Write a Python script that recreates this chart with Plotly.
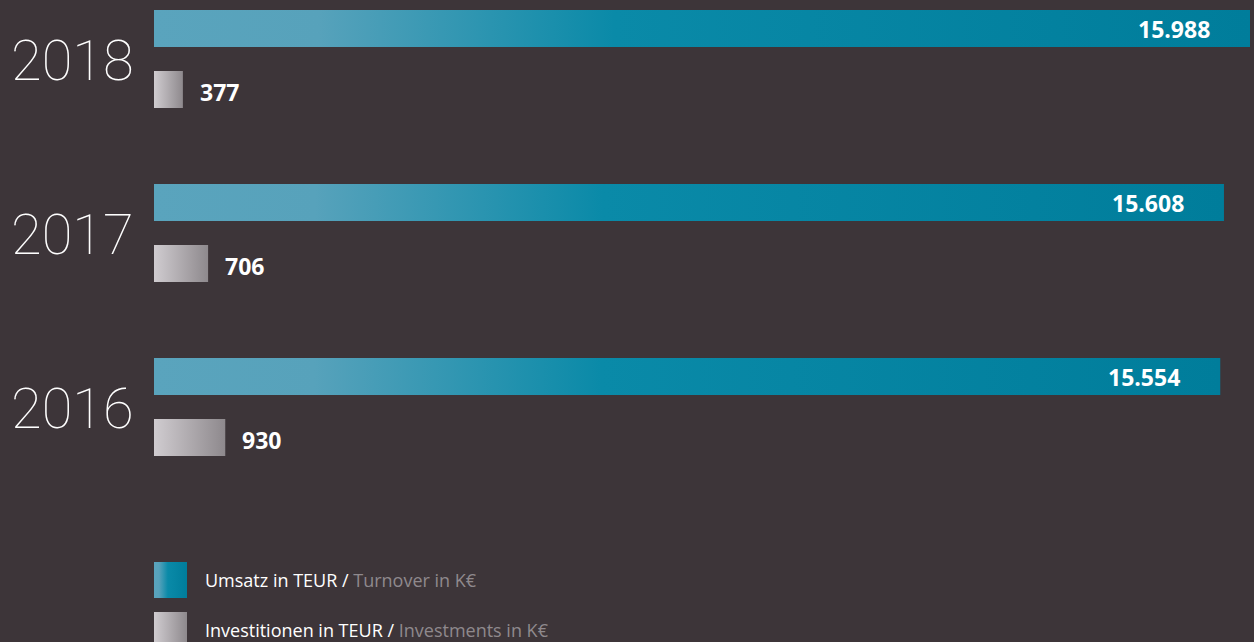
import plotly.graph_objects as go

years = ["2018", "2017", "2016"]
turnover = [15988, 15608, 15554]
investments = [377, 706, 930]
turnover_labels = ["15.988", "15.608", "15.554"]
investment_labels = ["377", "706", "930"]
legend_de = ["Umsatz in TEUR", "Investitionen in TEUR"]
legend_en = ["Turnover in K€", "Investments in K€"]

BG = "#3d3539"
TEAL_SCALE = [[0, "#5aa4bd"], [0.15, "#57a2bb"], [0.42, "#0a8aa8"], [1, "#007d9b"]]
GREY_SCALE = [[0, "#d0ccd0"], [1, "#8e898d"]]

W, H = 1254, 642
X0 = 154                      # pixel where value 0 sits
T_SCALE = 15988 / 1096        # turnover units per pixel
I_SCALE = 13.05               # investment units per pixel
GROUP_PX = 174                # pixels between year groups
y_top = 407 / GROUP_PX
y_bot = -(H - 407) / GROUP_PX
OFF = 30.5 / GROUP_PX
BH = 37 / GROUP_PX

LABEL_FONT = "Open Sans"

fig = go.Figure()
n = len(years)
for i, yr in enumerate(years):
    g = n - 1 - i
    yc_t = g + OFF
    yc_i = g - OFF
    v = turnover[i]
    fig.add_trace(go.Scatter(
        x=[0, v, v, 0, 0], y=[yc_t - BH/2, yc_t - BH/2, yc_t + BH/2, yc_t + BH/2, yc_t - BH/2],
        mode="lines", line=dict(width=0), fill="toself",
        fillgradient=dict(type="horizontal", colorscale=TEAL_SCALE),
        xaxis="x", yaxis="y", hoverinfo="skip", showlegend=False))
    u = investments[i]
    fig.add_trace(go.Scatter(
        x=[0, u, u, 0, 0], y=[yc_i - BH/2, yc_i - BH/2, yc_i + BH/2, yc_i + BH/2, yc_i - BH/2],
        mode="lines", line=dict(width=0), fill="toself",
        fillgradient=dict(type="horizontal", colorscale=GREY_SCALE),
        xaxis="x2", yaxis="y", hoverinfo="skip", showlegend=False))
    fig.add_annotation(x=v, y=yc_t, xref="x", yref="y", text="<b>%s</b>" % turnover_labels[i],
                       xanchor="right", xshift=-38, showarrow=False,
                       font=dict(family=LABEL_FONT, size=23, color="white"))
    fig.add_annotation(x=u, y=yc_i, xref="x2", yref="y", text="<b>%s</b>" % investment_labels[i],
                       xanchor="left", xshift=15, yshift=-2, showarrow=False,
                       font=dict(family=LABEL_FONT, size=23, color="white"))
    fig.add_annotation(x=0, y=g, xref="x", yref="y", text=yr, xanchor="right", xshift=-18,
                       yshift=-2, showarrow=False,
                       font=dict(family="Roboto", size=56, color="white", weight=100))

legend_rows = [580, 630]
scales = [TEAL_SCALE, GREY_SCALE]
for k in range(2):
    yc = legend_rows[k]
    fig.add_trace(go.Scatter(
        x=[154, 187, 187, 154, 154], y=[yc - 18, yc - 18, yc + 18, yc + 18, yc - 18],
        mode="lines", line=dict(width=0), fill="toself",
        fillgradient=dict(type="horizontal", colorscale=scales[k]),
        xaxis="x3", yaxis="y3", hoverinfo="skip", showlegend=False))
    fig.add_annotation(x=203, y=yc, xref="x3", yref="y3", xanchor="left", showarrow=False,
                       text="%s / <span style='color:#8f898d'>%s</span>" % (legend_de[k], legend_en[k]),
                       font=dict(family="Open Sans", size=18, color="white"))

hidden = dict(visible=False, showgrid=False, zeroline=False, fixedrange=True)
fig.update_layout(
    width=W, height=H, margin=dict(l=0, r=0, t=0, b=0),
    paper_bgcolor=BG, plot_bgcolor=BG,
    xaxis=dict(range=[-X0 * T_SCALE, (W - X0) * T_SCALE], domain=[0, 1], **hidden),
    xaxis2=dict(range=[-X0 * I_SCALE, (W - X0) * I_SCALE], overlaying="x", **hidden),
    yaxis=dict(range=[y_bot, y_top], domain=[0, 1], **hidden),
    xaxis3=dict(range=[0, W], overlaying="x", **hidden),
    yaxis3=dict(range=[H, 0], overlaying="y", **hidden),
)
fig.write_html("out.html", config=dict(displayModeBar=False),
               post_script="document.body.style.margin='0';document.body.style.overflow='hidden';")
